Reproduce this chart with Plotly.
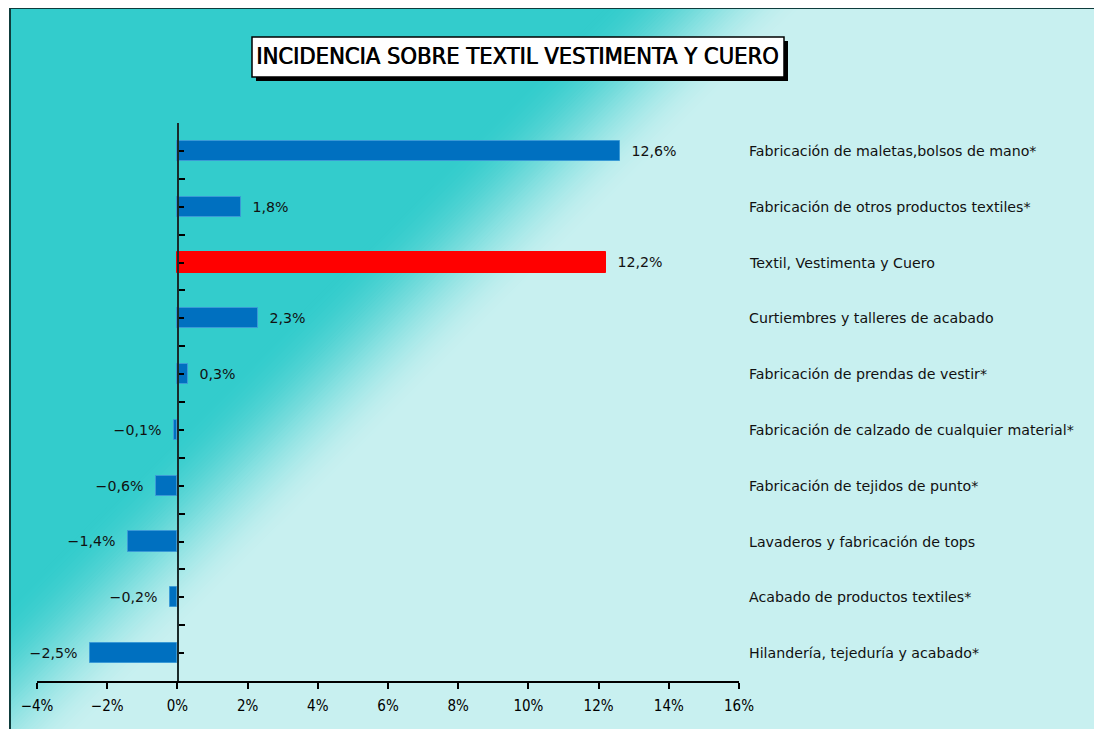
import plotly.graph_objects as go

# ---- data ----
categories = [
    "Fabricación de maletas,bolsos de mano*",
    "Fabricación de otros productos textiles*",
    "Textil, Vestimenta y Cuero",
    "Curtiembres y talleres de acabado",
    "Fabricación de prendas de vestir*",
    "Fabricación de calzado de cualquier material*",
    "Fabricación de tejidos de punto*",
    "Lavaderos y fabricación de tops",
    "Acabado de productos textiles*",
    "Hilandería, tejeduría y acabado*",
]
values = [12.6, 1.8, 12.2, 2.3, 0.3, -0.1, -0.6, -1.4, -0.2, -2.5]
highlight = "Textil, Vestimenta y Cuero"
x_ticks = [-4, -2, 0, 2, 4, 6, 8, 10, 12, 14, 16]
title_text = "INCIDENCIA SOBRE TEXTIL VESTIMENTA Y CUERO"

# ---- geometry (page pixels; the figure sits 8px into the page) ----
OFF = 8
PAGE_W, PAGE_H = 1102, 729
W, H = PAGE_W - OFF, PAGE_H - OFF
L, R, T, B = 37, 739, 123, 681  # plot area in page pixels
PW, PH = R - L, B - T


def px(x):
    return (x - L) / PW


def py(y):
    return (B - y) / PH


n = len(categories)
ypos = [n - 1 - i for i in range(n)]
blue, red = "#0070C0", "#FF0000"
colors = [red if c == highlight else blue for c in categories]
line_colors = [red if c == highlight else "#3A9AD6" for c in categories]
NB = "\u00a0"


def fmt(v):
    s = f"{abs(v):.1f}".replace(".", ",") + "%"
    if v < 0:
        return "\u2212" + s + NB * 2
    return NB * 2 + s


texts = [fmt(v) for v in values]
tick_text = [("\u2212" if t < 0 else "") + f"{abs(t)}%" for t in x_ticks]

LABEL_FONT = "DejaVu Sans"
NARROW = "Liberation Sans Narrow, DejaVu Sans Condensed, Arial Narrow"

fig = go.Figure()
fig.add_trace(go.Bar(
    x=values, y=ypos, orientation="h", width=0.36,
    marker=dict(color=colors, line=dict(color=line_colors, width=1)),
    text=texts, textposition="outside", cliponaxis=False,
    textfont=dict(family=LABEL_FONT, size=14.2, color="#111111"),
    hoverinfo="skip",
))

# ---- diagonal gradient background built from bands ----
ox, oy = 10, 8
RX0, RY0, RX1, RY1 = ox, oy, PAGE_W + 12, PAGE_H + 12
C_TEAL = (51, 204, 204)
C_LIGHT = (200, 240, 240)


def clip_halfplane(t):
    """Polygon of frame rect with x + y <= t (page pixels)."""
    poly = [(RX0, RY0), (RX1, RY0), (RX1, RY1), (RX0, RY1)]
    out = []
    for i in range(len(poly)):
        a, b = poly[i], poly[(i + 1) % len(poly)]
        ina, inb = a[0] + a[1] <= t, b[0] + b[1] <= t
        if ina:
            out.append(a)
        if ina != inb:
            fa, fb = a[0] + a[1] - t, b[0] + b[1] - t
            s = fa / (fa - fb)
            out.append((a[0] + s * (b[0] - a[0]), a[1] + s * (b[1] - a[1])))
    return out


def poly_path(pts):
    return "M " + " L ".join(f"{px(x):.5f},{py(y):.5f}" for x, y in pts) + " Z"


def mix(f):
    f = max(0.0, min(1.0, f))
    return "rgb({},{},{})".format(*[round(a + (b - a) * f) for a, b in zip(C_TEAL, C_LIGHT)])


shapes = []
shapes.append(dict(type="path", xref="paper", yref="paper", layer="below",
                   path=poly_path([(RX0, RY0), (RX1, RY0), (RX1, RY1), (RX0, RY1)]),
                   fillcolor=mix(1), line=dict(width=0)))
G0, G1, STEPS = 610, 815, 50
for k in range(STEPS, 0, -1):
    t = G0 + (G1 - G0) * k / STEPS
    f = (k - 0.5) / STEPS
    f = f * f * (3 - 2 * f)  # smooth ramp
    pts = clip_halfplane(t)
    if len(pts) >= 3:
        shapes.append(dict(type="path", xref="paper", yref="paper", layer="below",
                           path=poly_path(pts), fillcolor=mix(f), line=dict(width=0)))
pts = clip_halfplane(G0)
shapes.append(dict(type="path", xref="paper", yref="paper", layer="below",
                   path=poly_path(pts), fillcolor=mix(0), line=dict(width=0)))

# frame border
shapes.append(dict(
    type="path", xref="paper", yref="paper",
    path=f"M {px(ox)} {py(PAGE_H + 10)} L {px(ox)} {py(oy)} L {px(PAGE_W + 10)} {py(oy)}",
    line=dict(color="#0E3C3C", width=2),
))
# title box + shadow
bx0, by0, bx1, by1 = 252, 37, 784, 77
shapes.append(dict(type="rect", xref="paper", yref="paper",
                   x0=px(bx0 + 4), x1=px(bx1 + 4), y0=py(by0 + 4), y1=py(by1 + 4),
                   fillcolor="black", line=dict(width=0)))
shapes.append(dict(type="rect", xref="paper", yref="paper",
                   x0=px(bx0), x1=px(bx1), y0=py(by0), y1=py(by1),
                   fillcolor="white", line=dict(color="black", width=1.5)))

annotations = [dict(
    text=title_text, xref="paper", yref="paper",
    x=px((bx0 + bx1) / 2 - 0.5), y=py((by0 + by1) / 2 - 1), xanchor="center", yanchor="middle",
    showarrow=False,
    font=dict(family=NARROW, size=23.5, color="black", shadow="0.7px 0px 0px black"),
)]
for c, yv in zip(categories, ypos):
    annotations.append(dict(
        text=c, xref="paper", yref="y", x=px(747), y=yv,
        xanchor="left", yanchor="middle", showarrow=False,
        font=dict(family=LABEL_FONT, size=14.2, color="#111111"),
    ))

fig.update_layout(
    width=W, height=H,
    margin=dict(l=L - OFF, r=W - (R - OFF), t=T - OFF, b=H - (B - OFF), pad=0),
    paper_bgcolor="white", plot_bgcolor="rgba(0,0,0,0)",
    showlegend=False, bargap=0,
    shapes=shapes, annotations=annotations,
    xaxis=dict(
        range=[x_ticks[0], x_ticks[-1]], tickmode="array", tickvals=x_ticks, ticktext=tick_text,
        showgrid=False, zeroline=False, showline=True, linecolor="black", linewidth=1.5,
        ticks="outside", ticklen=6, tickwidth=1.5, tickcolor="black",
        ticklabelstandoff=4,
        tickfont=dict(family=NARROW, size=15, color="black"),
        fixedrange=True,
    ),
    yaxis=dict(
        range=[-0.5, n - 0.5], anchor="free", position=px(177.5),
        tickmode="array", tickvals=[k - 0.5 for k in range(n + 1)], showticklabels=False,
        ticks="inside", ticklen=6, tickwidth=1.5, tickcolor="black",
        minor=dict(tickvals=list(range(n)), ticks="inside", ticklen=5, tickwidth=1.5, tickcolor="black"),
        showgrid=False, zeroline=False, showline=True, linecolor="#1a2a2a", linewidth=2,
        fixedrange=True,
    ),
)

fig.write_html(
    "out.html",
    config={"displayModeBar": False},
    post_script="document.documentElement.style.overflow='hidden';document.body.style.overflow='hidden';",
)
